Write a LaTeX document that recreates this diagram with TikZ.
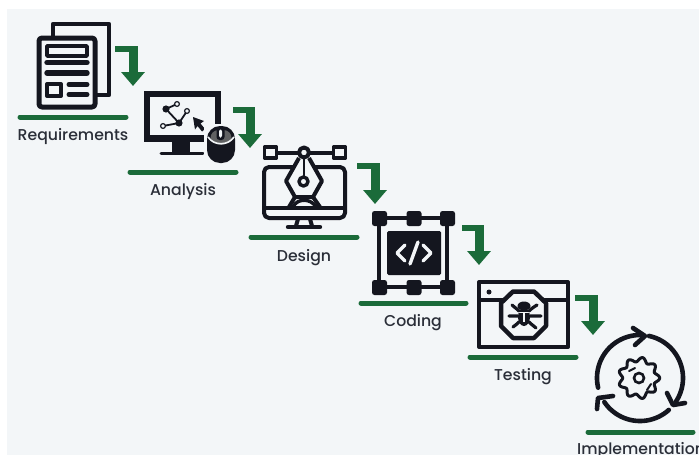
\documentclass[tikz,border=0pt]{standalone}
\usepackage{fontspec}
\setmainfont{Poppins Medium}
\usetikzlibrary{arrows.meta}
\definecolor{panel}{HTML}{F3F6F8}
\definecolor{ink}{HTML}{14161F}
\definecolor{labelink}{HTML}{2A2E38}
\definecolor{flow}{HTML}{1B6B3A}
\tikzset{
  bar/.style={draw=flow,line width=5pt,line cap=round},
  flowstub/.style={draw=flow,line width=6pt,shorten >=14pt},
  flowshaft/.style={draw=flow,line width=9pt,shorten <=-3pt,-{Triangle[width=23pt,length=14pt]}},
  lbl/.style={text=labelink,font=\fontsize{15.7}{18}\selectfont,inner sep=0pt,anchor=base},
  ic/.style={draw=ink,line width=4pt,line join=round},
  icr/.style={draw=ink,line width=4pt,line join=round,line cap=round},
  cyc/.style={draw=ink,line width=4.6pt,line cap=round,line join=round},
}
\newcommand{\flowstep}[2]{\draw[flowstub] (#1) -| (#2); \draw[flowshaft] (#1 -| #2) -- (#2);}
\begin{document}
\begin{tikzpicture}[x=1pt,y=-1pt]
\useasboundingbox (0,0) rectangle (699,455);
\fill[white] (0,0) rectangle (699,455);
\fill[panel] (7,9) rectangle (699,455);

% bars
\draw[bar] (20,117) -- (126,117);
\draw[bar] (130,172) -- (236,172);
\draw[bar] (251,237) -- (357,237);
\draw[bar] (361,303) -- (466,303);
\draw[bar] (470,357) -- (576,357);
\draw[bar] (588,432) -- (693,432);

% labels
\node[lbl] (requirements) at (73,140.5) {Requirements};
\node[lbl] (analysis) at (183,195.5) {Analysis};
\node[lbl] (design) at (304,261.5) {Design};
\node[lbl] (coding) at (413,326.5) {Coding};
\node[lbl] (testing) at (523,380.5) {Testing};
\node[lbl,anchor=base west] (implementation) at (577,454) {Implementation};

% flow arrows
\coordinate (f1s) at (115,49); \coordinate (f1e) at (133,86);
\coordinate (f2s) at (233,110); \coordinate (f2e) at (250,148);
\coordinate (f3s) at (357,166); \coordinate (f3e) at (375,204);
\coordinate (f4s) at (462,228); \coordinate (f4e) at (479,265);
\coordinate (f5s) at (575,298); \coordinate (f5e) at (593,335);
\flowstep{f1s}{f1e}
\flowstep{f2s}{f2e}
\flowstep{f3s}{f3e}
\flowstep{f4s}{f4e}
\flowstep{f5s}{f5e}

% Requirements icon
\draw[ic,line width=4.4pt] (53,36) -- (53,24) -- (109,24) -- (109,95) -- (97,95);
\draw[ic,line width=5pt,rounded corners=3pt,fill=panel] (39,38) rectangle (95,107);
\draw[ic,line width=3.4pt] (47,46) rectangle (87,56);
\draw[icr,line width=5.4pt] (47,62.5) -- (87,62.5);
\draw[icr,line width=5.4pt] (47,73) -- (87,73);
\draw[ic,line width=4pt] (47,84) rectangle (61,96);
\draw[icr,line width=5pt] (69,84.5) -- (87,84.5);
\draw[icr,line width=5pt] (69,94.5) -- (87,94.5);

% Analysis icon
\fill[ink] (144,91) rectangle (221,142);
\fill[panel] (150,97) rectangle (215,135);
\fill[ink] (172,142) rectangle (190,152);
\draw[icr,line width=3pt] (161,153) -- (203,153);
\coordinate (n1) at (166,109); \coordinate (n2) at (179,123);
\coordinate (n3) at (177,104); \coordinate (n4) at (187,111); \coordinate (n5) at (163,126);
\draw[ink,line width=1.8pt] (n3) -- (n1) -- (n2) -- (n4) (n2) -- (n5);
\fill[ink] (n1) circle (3.6) (n2) circle (3.6);
\draw[ink,line width=1.2pt,fill=panel] (n3) circle (2.4) (n4) circle (2.4) (n5) circle (2.4);
\fill[ink] (193,117) -- (204,121) -- (200.5,123.5) -- (205,129) -- (202,131.5) -- (197.5,126) -- (195,129.5) -- cycle;
\fill[panel] (204,123.5) rectangle (238,166);
\fill[ink,rounded corners=13pt] (207,126) rectangle (235,163);
\fill[black!60!panel,rounded corners=8pt] (210.5,130) rectangle (231.5,146);
\fill[ink] (208,138) .. controls (214,147) and (228,147) .. (234,138) -- (234,150) -- (208,150) -- cycle;
\draw[panel,line width=1.6pt] (208,137) .. controls (214,146) and (228,146) .. (234,137);
\fill[ink,rounded corners=3pt] (216.5,127) rectangle (224.5,140);
\fill[panel,rounded corners=2pt] (219,129.5) rectangle (222,137.5);

% Design icon
\draw[ic,rounded corners=5pt] (264,167) rectangle (345,218);
\draw[ic] (264,208) -- (345,208);
\draw[ic] (298,219) -- (296,226) (310,219) -- (312,226);
\draw[icr,line width=4.4pt] (288,227) -- (320,227);
\draw[ic] (277,152.5) -- (333,152.5);
\draw[ic,line width=3.4pt,fill=panel] (264.5,147) rectangle (276.5,158);
\draw[ic,line width=3.4pt,fill=panel] (333.5,147) rectangle (345.5,158);
\draw[ic,fill=panel] (299,158) -- (286,181) -- (295,197) -- (313,197) -- (322,181) -- (309,158);
\draw[ic,line width=2.5pt] (304,158) -- (304,177);
\draw[ic,fill=panel] (304,152.5) circle (5);
\draw[ic,line width=3.4pt,fill=panel] (303.5,181.5) circle (4.5);
\draw[ic] (295,197) -- (289,207) (313,197) -- (320,207);
\draw[ic,line width=3.4pt] (293,207) .. controls (297,198) and (311,198) .. (316,207);

% Coding icon
\draw[ic] (379,218) rectangle (447,287);
\foreach \cx/\cy in {379.5/218.5,414/218.5,447.5/218.5,379.5/287.5,414/287.5,447.5/287.5}{
  \fill[ink,rounded corners=2.5pt] (\cx-7.5,\cy-7.5) rectangle (\cx+7.5,\cy+7.5);
}
\fill[ink,rounded corners=1.5pt] (387,231) rectangle (441,275);
\draw[panel,line width=3.4pt,line cap=round,line join=round] (405,245) -- (397,253) -- (405,261);
\draw[panel,line width=3.4pt,line cap=round,line join=round] (423,245) -- (431,253) -- (423,261);
\draw[panel,line width=3.4pt,line cap=round] (418,242) -- (410,264);

% Testing icon
\draw[ic] (479,282) rectangle (568,347);
\draw[ic] (479,299.5) -- (568,299.5);
\fill[ink] (489,292) circle (2.5);
\draw[ic,line width=4.5pt,fill=panel] (513,291.5) -- (534,291.5) -- (546,303) -- (546,326) -- (534,338) -- (513,338) -- (501,326) -- (501,303) -- cycle;
\fill[ink] (524,306) ellipse (6.5 and 4.5);
\fill[ink] (524,317) ellipse (6 and 9);
\draw[panel,line width=1.6pt] (519,312.5) -- (529,312.5) (524,313) -- (524,322);
\draw[icr,line width=3.2pt] (519,311) .. controls (516,308) and (514,307) .. (512,305)
  (529,311) .. controls (532,308) and (534,307) .. (537,305)
  (518,316) -- (509,316) (530,316) -- (541,316)
  (519,322) .. controls (516,325) and (514,326) .. (513,327)
  (529,322) .. controls (532,325) and (534,326) .. (536,328);

% Implementation icon
\draw[cyc] plot[domain=193:86,samples=50,smooth] ({640+43*cos(\x)},{378-43*sin(\x)});
\draw[cyc] plot[domain=78:-33,samples=50,smooth] ({640+43*cos(\x)},{378-43*sin(\x)});
\draw[cyc] plot[domain=-48:-146,samples=50,smooth] ({640+43*cos(\x)},{378-43*sin(\x)});
\draw[cyc] (633,328) -- (645,336) -- (635,345);
\draw[cyc] (667,393) -- (673,405) -- (685,403);
\draw[cyc] (613,396) -- (598,398) -- (597,409);
\draw[ink,line width=3pt,line join=round] plot[domain=0:360,samples=120,smooth] ({639+(18.5+2.2*cos(9*\x))*cos(\x)},{378-(18.5+2.2*cos(9*\x))*sin(\x)}) -- cycle;
\draw[ink,line width=2.6pt] (639,378) circle (5);
\draw[ink,line width=2pt,line cap=round] (629,371) -- (635,368);
\draw[ink,line width=2pt,line cap=round] (647,390) -- (651,384);
\end{tikzpicture}
\end{document}
